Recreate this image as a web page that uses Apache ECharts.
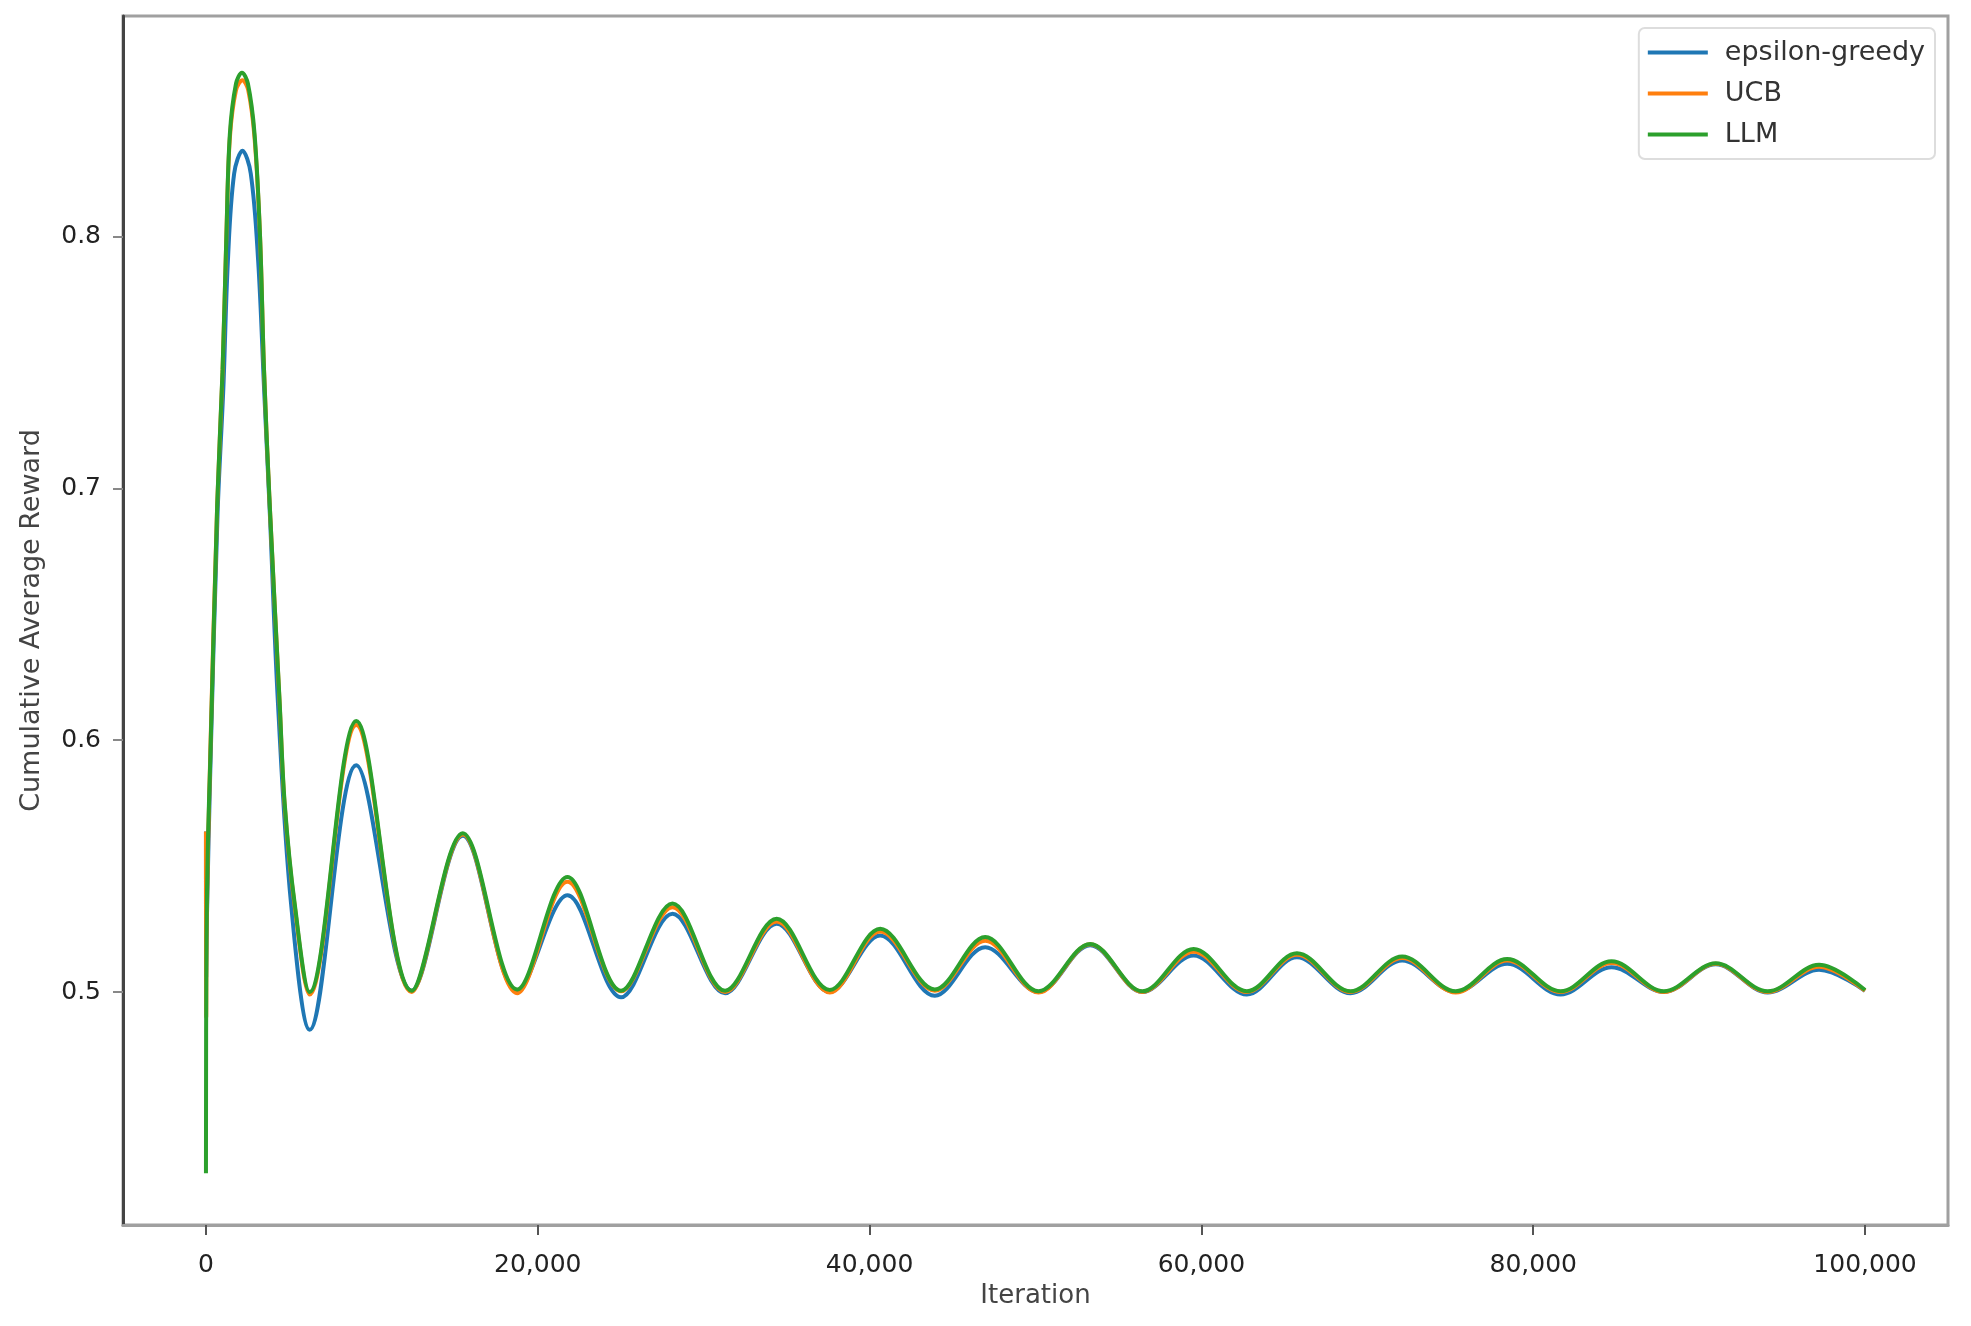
<!DOCTYPE html>
<html>
<head>
<meta charset="utf-8">
<script src="https://cdn.jsdelivr.net/npm/echarts@6/dist/echarts.min.js"></script>
<style>
  html, body { margin: 0; padding: 0; background: #fff; }
  #main { width: 1971px; height: 1326px; }
</style>
</head>
<body>
<div id="main"></div>
<script>
// x ticks / y ticks
var xTicks = [0, 20000, 40000, 60000, 80000, 100000];
var yTicks = [0.5, 0.6, 0.7, 0.8];

// early part (start noise + first big peak), read per series
var blueStartIter  = [0, 10, 60, 250, 700, 1050, 1320, 1700, 2200, 2700, 3150, 3500, 3850, 4340, 5130];
var blueStartVal   = [0.5637, 0.506, 0.53, 0.585, 0.69, 0.74, 0.79, 0.825, 0.834, 0.825, 0.79, 0.74, 0.69, 0.6147, 0.535];
var orangeStartIter = [0, 15, 50, 250, 680, 1000, 1230, 1440, 1810, 2200, 2550, 2930, 3260, 3500, 3840, 4445, 4745, 5350];
var orangeStartVal  = [0.5637, 0.49, 0.53, 0.592, 0.694, 0.746, 0.8, 0.839, 0.858, 0.862, 0.858, 0.839, 0.8, 0.747, 0.694, 0.614, 0.574, 0.534];
var greenStartIter = [0, 30, 120, 250, 680, 1000, 1230, 1440, 1810, 2170, 2530, 2930, 3260, 3500, 3840, 4445, 4745, 5350];
var greenStartVal  = [0.428, 0.52, 0.56, 0.59, 0.694, 0.747, 0.8, 0.8406, 0.8606, 0.865, 0.8606, 0.8406, 0.8, 0.747, 0.694, 0.6147, 0.575, 0.535];

// troughs and peaks after the first one (shared iterations)
var waveIter = [6250, 9060, 12400, 15480, 18760, 21790, 25020, 28120, 31290, 34400, 37600, 40640,
                43930, 46970, 50180, 53300, 56450, 59530, 62740, 65760, 68990, 72100, 75330, 78430,
                81650, 84720, 87880, 91000, 94130, 97230, 100000];
var blueWave   = [0.485, 0.590, 0.5005, 0.562, 0.5005, 0.5384, 0.4979, 0.5311, 0.4995, 0.5271, 0.5, 0.5224,
                  0.4985, 0.5178, 0.5, 0.5186, 0.5, 0.5145, 0.499, 0.5138, 0.4995, 0.5125, 0.5, 0.5112,
                  0.499, 0.5098, 0.5, 0.511, 0.4998, 0.5088, 0.5005];
var orangeWave = [0.499, 0.606, 0.5, 0.5625, 0.4995, 0.5438, 0.5003, 0.5337, 0.5, 0.528, 0.4998, 0.524,
                  0.5005, 0.5204, 0.4998, 0.519, 0.5, 0.516, 0.5, 0.5148, 0.5, 0.5135, 0.4998, 0.5125,
                  0.5, 0.5115, 0.5, 0.5112, 0.5, 0.51, 0.5005];
var greenWave  = [0.5, 0.6076, 0.5005, 0.563, 0.501, 0.5457, 0.5005, 0.5351, 0.5005, 0.5291, 0.5008, 0.5251,
                  0.501, 0.5218, 0.5003, 0.5191, 0.5003, 0.5171, 0.5003, 0.5154, 0.5003, 0.5141, 0.5003, 0.5131,
                  0.5003, 0.5122, 0.5003, 0.5114, 0.5003, 0.5108, 0.5008];

function pairs(xs, ys) {
  var out = [];
  for (var i = 0; i < xs.length; i++) out.push([xs[i], ys[i]]);
  return out;
}

var font = 'DejaVu Sans';

var myChart = echarts.init(document.getElementById('main'));
var option = {
  animation: false,
  backgroundColor: '#fff',
  grid: {
    left: 123, right: 23, top: 16, bottom: 101,
    show: true, borderColor: '#a0a0a0', borderWidth: 3
  },
  legend: {
    orient: 'vertical',
    right: 36, top: 28,
    padding: [11, 10, 11, 9],
    itemGap: 14,
    itemWidth: 60, itemHeight: 4,
    icon: 'rect',
    borderColor: '#dddddd', borderWidth: 2, borderRadius: 6,
    backgroundColor: '#fff',
    textStyle: { fontFamily: font, fontSize: 27, color: '#333', padding: [0, 0, 0, 12] },
    data: ['epsilon-greedy', 'UCB', 'LLM']
  },
  xAxis: {
    type: 'value',
    min: -5000, max: 105000,
    name: 'Iteration',
    nameLocation: 'middle',
    nameGap: 54,
    nameTextStyle: { fontFamily: font, fontSize: 26, color: '#444' },
    axisLine: { show: true, onZero: false, lineStyle: { color: '#a0a0a0', width: 3 } },
    axisTick: { show: true, length: 10, customValues: xTicks, lineStyle: { color: '#555', width: 2 } },
    axisLabel: {
      customValues: xTicks,
      margin: 28,
      fontFamily: font, fontSize: 25, color: '#222',
      formatter: function (v) { return Number(v).toLocaleString('en-US'); }
    },
    splitLine: { show: false }
  },
  yAxis: {
    type: 'value',
    min: 0.4075, max: 0.8875,
    name: 'Cumulative Average Reward',
    nameLocation: 'middle',
    nameGap: 78,
    nameTextStyle: { fontFamily: font, fontSize: 27, color: '#444' },
    axisLine: { show: true, onZero: false, lineStyle: { color: '#444', width: 3 } },
    axisTick: { show: true, length: 10, customValues: yTicks, lineStyle: { color: '#888', width: 2 } },
    axisLabel: {
      customValues: yTicks,
      margin: 22,
      fontFamily: font, fontSize: 25, color: '#222',
      formatter: function (v) { return Number(v).toFixed(1); }
    },
    splitLine: { show: false }
  },
  series: [
    {
      name: 'epsilon-greedy', type: 'line', showSymbol: false, smooth: 0.35,
      itemStyle: { color: '#1f77b4' },
      lineStyle: { color: '#1f77b4', width: 4 },
      data: pairs(blueStartIter.concat(waveIter), blueStartVal.concat(blueWave))
    },
    {
      name: 'UCB', type: 'line', showSymbol: false, smooth: 0.35,
      itemStyle: { color: '#ff7f0e' },
      lineStyle: { color: '#ff7f0e', width: 4 },
      data: pairs(orangeStartIter.concat(waveIter), orangeStartVal.concat(orangeWave))
    },
    {
      name: 'LLM', type: 'line', showSymbol: false, smooth: 0.35,
      itemStyle: { color: '#2ca02c' },
      lineStyle: { color: '#2ca02c', width: 4 },
      data: pairs(greenStartIter.concat(waveIter), greenStartVal.concat(greenWave))
    }
  ]
};
myChart.setOption(option, true);
</script>
</body>
</html>
